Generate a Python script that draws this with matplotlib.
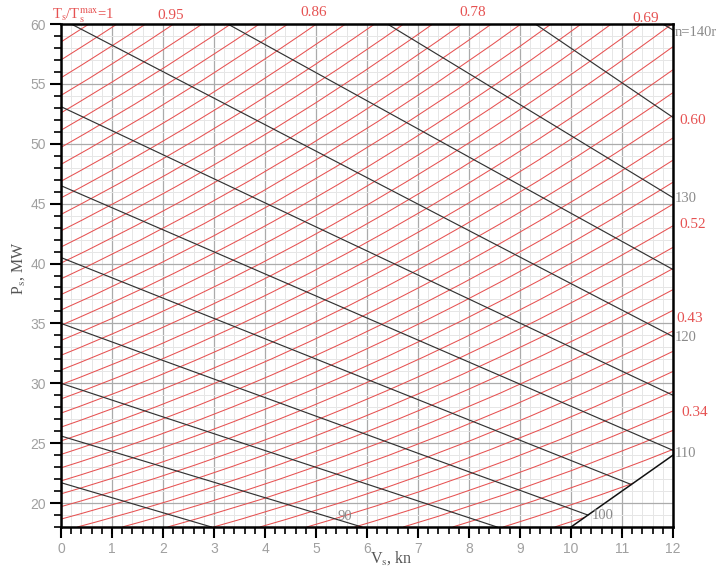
import numpy as np
import matplotlib
matplotlib.use('Agg')
import matplotlib.pyplot as plt
from matplotlib.path import Path
from matplotlib.patches import PathPatch
from matplotlib.ticker import MultipleLocator

plt.rcParams['mathtext.fontset'] = 'stix'

# constant shaft speed lines, n [rpm]: start and end point (V [kn], P [MW])
RPM = [140, 135, 130, 125, 120, 115, 110, 105, 100, 95, 90, 85]
RPM_V0 = [11.8, 9.3, 6.4, 3.27, 0.2, 0, 0, 0, 0, 0, 0, 0]
RPM_P0 = [60, 60, 60, 60, 60, 53.1, 46.5, 40.5, 35.0, 30.0, 25.6, 21.7]
RPM_V1 = [12, 12, 12, 12, 12, 12, 12, 11.18, 10.33, 8.55, 5.9, 2.95]
RPM_P1 = [59.5, 52.2, 45.5, 39.5, 33.9, 29.0, 24.4, 21.55, 19.0, 18, 18, 18]

# limit line at the lower right
LIMIT_V = [10, 12]
LIMIT_P = [18, 24]

# constant thrust curves: entry, middle and exit point of each curve
RED_V_IN = [0] * 32 + [0.32, 1.2, 2.09, 2.99, 3.9, 4.82, 5.76, 6.71, 7.68, 8.67, 9.68]
RED_P_IN = [58.5, 57, 55.51, 54.04, 52.58, 51.13, 49.7, 48.28, 46.87, 45.48, 44.1,
            42.73, 41.38, 40.04, 38.72, 37.41, 36.12, 34.84, 33.58, 32.34, 31.11,
            29.89, 28.69, 27.51, 26.34, 25.19, 24.06, 22.94, 21.85, 20.77, 19.7,
            18.66] + [18] * 11
RED_V_MID = [0.27, 0.55, 0.83, 1.11, 1.38, 1.66, 1.94, 2.22, 2.51, 2.79, 3.07, 3.36,
             3.64, 3.93, 4.22, 4.51, 4.8, 5.1, 5.39, 5.69, 5.99, 6, 6, 6, 6, 6, 6,
             6, 6, 6, 6, 6, 6.16, 6.6, 7.04, 7.5, 7.95, 8.41, 8.88, 9.36, 9.84,
             9.94, 9.97]
RED_P_MID = [59.24, 58.48, 57.71, 56.94, 56.16, 55.38, 54.6, 53.82, 53.03, 52.23,
             51.44, 50.64, 49.84, 49.03, 48.22, 47.41, 46.59, 45.77, 44.95, 44.12,
             43.29, 41.77, 40.25, 38.74, 37.25, 35.78, 34.32, 32.88, 31.46, 30.06,
             28.67, 27.31, 26.23, 25.61, 24.98, 24.34, 23.7, 23.04, 22.38, 21.7,
             21.02, 19.75, 18.4]
RED_V_OUT = [0.55, 1.1, 1.66, 2.21, 2.77, 3.33, 3.89, 4.45, 5.01, 5.58, 6.15, 6.72,
             7.29, 7.86, 8.44, 9.02, 9.61, 10.2, 10.79, 11.38, 11.98] + [12] * 20 + [11.22, 10.27]
RED_P_OUT = [60] * 21 + [58.11, 56.18, 54.27, 52.37, 50.49, 48.63, 46.79, 44.96,
                         43.15, 41.35, 39.58, 37.82, 36.09, 34.37, 32.67, 30.99,
                         29.33, 27.69, 26.07, 24.48, 21.66, 18.8]

# labels of the thrust ratio curves
RATIO_TEXT = ['0.95', '0.86', '0.78', '0.69', '0.60', '0.52', '0.43', '0.34']
RATIO_V = [2.16, 4.96, 8.08, 11.47, 12.38, 12.39, 12.33, 12.43]
RATIO_P = [60.67, 60.98, 60.98, 60.44, 51.93, 43.3, 35.4, 27.6]

RED = '#e65252'
SERIF = 'Liberation Serif'
GRAY = '#8a8a8a'

fig = plt.figure(figsize=(7.16, 5.68), dpi=100)
ax = fig.add_axes([61 / 716, 41 / 568, 612 / 716, 503 / 568])
ax.set_xlim(0, 12)
ax.set_ylim(18, 60)
ax.xaxis.set_major_locator(MultipleLocator(1))
ax.xaxis.set_minor_locator(MultipleLocator(0.2))
ax.yaxis.set_major_locator(MultipleLocator(5))
ax.yaxis.set_minor_locator(MultipleLocator(1))
ax.grid(which='major', color='#ababab', linewidth=0.9)
ax.grid(which='minor', color='#e6e6e6', linewidth=0.7)
ax.set_axisbelow(True)
for s in ax.spines.values():
    s.set_linewidth(1.8)
ax.tick_params(which='major', direction='out', length=8, width=1.5,
               labelcolor='#a0a0a0', labelsize=10, pad=3)
ax.tick_params(which='minor', direction='out', length=5, width=1.2)
for lab in ax.get_xticklabels() + ax.get_yticklabels():
    lab.set_family('Liberation Sans')

# thrust curves as quadratic curves through the three points
for i in range(len(RED_V_IN)):
    s = np.array([RED_V_IN[i], RED_P_IN[i]])
    m = np.array([RED_V_MID[i], RED_P_MID[i]])
    e = np.array([RED_V_OUT[i], RED_P_OUT[i]])
    c = 2 * m - (s + e) / 2
    path = Path([s, c, e], [Path.MOVETO, Path.CURVE3, Path.CURVE3])
    ax.add_patch(PathPatch(path, fill=False, edgecolor=RED, linewidth=0.75))

for i in range(len(RPM)):
    ax.plot([RPM_V0[i], RPM_V1[i]], [RPM_P0[i], RPM_P1[i]], color='#333333', linewidth=0.85)
ax.plot(LIMIT_V, LIMIT_P, color='#111111', linewidth=1.1)

# rpm labels
ax.text(12.04, 59.3, 'n=140rpm', color=GRAY, fontsize=10.5, family=SERIF,
        ha='left', va='center', clip_on=False)
for v, p, t in [(12.04, 45.4, '130'), (12.04, 33.8, '120'), (12.04, 24.1, '110')]:
    ax.text(v, p, t, color=GRAY, fontsize=10.5, family=SERIF, ha='left', va='center',
            clip_on=False)
ax.text(10.62, 18.93, '100', color=GRAY, fontsize=10.5, family=SERIF, ha='center', va='center')
ax.text(5.57, 18.85, '90', color=GRAY, fontsize=10.5, family=SERIF, ha='center', va='center')

for v, p, t in zip(RATIO_V, RATIO_P, RATIO_TEXT):
    ax.text(v, p, t, color=RED, fontsize=11, family=SERIF, ha='center', va='center',
            clip_on=False)
ax.text(-0.17, 59.9, r'T$_\mathrm{s}$/T$_\mathrm{s}^\mathrm{max}$=1', color=RED,
        fontsize=10.5, family=SERIF, ha='left', va='bottom', clip_on=False)

ax.text(-0.07, 0.515, r'P$_\mathrm{s}$, MW', transform=ax.transAxes, rotation=90,
        color='#555555', fontsize=11.5, family=SERIF, ha='center', va='center')
ax.text(0.539, -0.062, r'V$_\mathrm{s}$, kn', transform=ax.transAxes,
        color='#555555', fontsize=11.5, family=SERIF, ha='center', va='center')

fig.savefig('out.png', dpi=100)
